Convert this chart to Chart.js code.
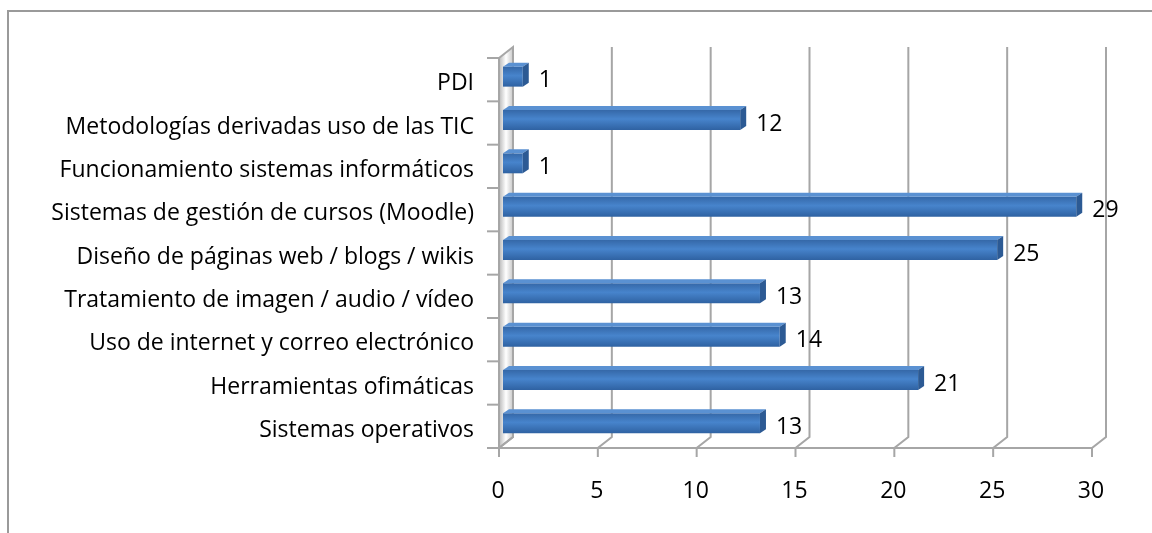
<!DOCTYPE html>
<html>
<head>
<meta charset="utf-8">
<script src="https://cdn.jsdelivr.net/npm/chart.js@4.4.1/dist/chart.umd.min.js"></script>
<style>
    html, body { margin: 0; padding: 0; background: #fff; }
    #wrap { position: relative; width: 1152px; height: 533px; overflow: hidden; }
    #frame { position: absolute; left: 7px; top: 10px; width: 1200px; height: 600px;
             border-left: 2px solid #9a9a9a; border-top: 2px solid #9a9a9a; }
    canvas { position: absolute; left: 0; top: 0; }
</style>
</head>
<body>
<div id="wrap">
    <div id="frame"></div>
    <canvas id="chart" width="1152" height="533"></canvas>
</div>
<script>
const categories = [
    "PDI",
    "Metodologías derivadas uso de las TIC",
    "Funcionamiento sistemas informáticos",
    "Sistemas de gestión de cursos (Moodle)",
    "Diseño de páginas web / blogs / wikis",
    "Tratamiento de imagen / audio / vídeo",
    "Uso de internet y correo electrónico",
    "Herramientas ofimáticas",
    "Sistemas operativos"
];
const values = [1, 12, 1, 29, 25, 13, 14, 21, 13];
const xTicks = [0, 5, 10, 15, 20, 25, 30];

const FONT = "'Open Sans', 'Liberation Sans', sans-serif";
const FONT_SIZE = 23;
const BAR_PCT = 0.46;

// front plane / back plane offsets relative to the bar plane
const front = { dx: -4, dy: 3 };
const back = { dx: 10, dy: -8 };
const depth = { dx: 6, dy: -4 };

const wallsPlugin = {
    id: 'walls',
    beforeDatasetsDraw(chart) {
        const ctx = chart.ctx;
        const area = chart.chartArea;
        const xs = chart.scales.x;
        const x0 = xs.getPixelForValue(0);
        const fb = area.bottom + front.dy;
        const bb = area.bottom + back.dy;
        const top = area.top + back.dy;
        const ftop = area.top + front.dy;

        ctx.save();
        // left side wall
        const g = ctx.createLinearGradient(x0 + front.dx, 0, x0 + back.dx, 0);
        g.addColorStop(0, '#b8b8b8');
        g.addColorStop(0.5, '#ffffff');
        g.addColorStop(1, '#c8c8c8');
        ctx.fillStyle = g;
        ctx.beginPath();
        ctx.moveTo(x0 + front.dx, ftop);
        ctx.lineTo(x0 + back.dx, top);
        ctx.lineTo(x0 + back.dx, bb);
        ctx.lineTo(x0 + front.dx, fb);
        ctx.closePath();
        ctx.fill();
        ctx.strokeStyle = '#a6a6a6';
        ctx.lineWidth = 2;
        ctx.stroke();

        // back grid lines and floor diagonals
        xTicks.forEach(v => {
            const px = xs.getPixelForValue(v);
            ctx.beginPath();
            ctx.moveTo(px + back.dx, top);
            ctx.lineTo(px + back.dx, bb);
            ctx.lineTo(px + front.dx, fb);
            ctx.lineTo(px + front.dx, fb + 9);
            ctx.stroke();
        });

        // front floor line
        ctx.beginPath();
        ctx.moveTo(x0 + front.dx - 2, fb);
        ctx.lineTo(xs.getPixelForValue(30) + front.dx, fb);
        ctx.stroke();

        // category tick marks on the left
        const n = categories.length;
        const step = (area.bottom - area.top) / n;
        for (let i = 0; i <= n; i++) {
            const y = area.top + front.dy + step * i;
            ctx.beginPath();
            ctx.moveTo(x0 + front.dx - 12, y);
            ctx.lineTo(x0 + front.dx, y);
            ctx.stroke();
        }
        ctx.restore();
    },
    afterDatasetsDraw(chart) {
        const ctx = chart.ctx;
        const meta = chart.getDatasetMeta(0);
        ctx.save();
        meta.data.forEach((bar, i) => {
            const left = bar.base;
            const right = bar.x;
            const h = bar.height;
            const t = bar.y - h / 2;
            const b = bar.y + h / 2;

            // top face
            ctx.fillStyle = '#5a91d2';
            ctx.beginPath();
            ctx.moveTo(left, t);
            ctx.lineTo(left + depth.dx, t + depth.dy);
            ctx.lineTo(right + depth.dx, t + depth.dy);
            ctx.lineTo(right, t);
            ctx.closePath();
            ctx.fill();

            // end face
            ctx.fillStyle = '#2c5a94';
            ctx.beginPath();
            ctx.moveTo(right, t);
            ctx.lineTo(right + depth.dx, t + depth.dy);
            ctx.lineTo(right + depth.dx, b + depth.dy);
            ctx.lineTo(right, b);
            ctx.closePath();
            ctx.fill();

            // value label
            ctx.fillStyle = '#000';
            ctx.font = FONT_SIZE + 'px ' + FONT;
            ctx.textAlign = 'left';
            ctx.textBaseline = 'middle';
            ctx.fillText(String(values[i]), right + 16, bar.y + 4);
        });
        ctx.restore();
    }
};

function barFill(context) {
    const chart = context.chart;
    const ys = chart.scales && chart.scales.y;
    if (!chart.chartArea || !ys || context.dataIndex === undefined) return '#3c78c0';
    const cy = ys.getPixelForValue(context.dataIndex);
    const h = (chart.chartArea.bottom - chart.chartArea.top) / categories.length * BAR_PCT;
    if (!Number.isFinite(cy) || !Number.isFinite(h)) return '#3c78c0';
    const g = chart.ctx.createLinearGradient(0, cy - h / 2, 0, cy + h / 2);
    g.addColorStop(0, '#3568a8');
    g.addColorStop(0.45, '#4784cc');
    g.addColorStop(1, '#2f62a2');
    return g;
}

const ctx = document.getElementById('chart').getContext('2d');

const chart = new Chart(ctx, {
    type: 'bar',
    data: {
        labels: categories,
        datasets: [{
            data: values,
            backgroundColor: barFill,
            borderWidth: 0,
            barPercentage: BAR_PCT,
            categoryPercentage: 1
        }]
    },
    options: {
        indexAxis: 'y',
        responsive: false,
        animation: false,
        devicePixelRatio: 1,
        layout: {
            padding: { top: 55, right: 56, bottom: 0, left: 0 }
        },
        plugins: {
            legend: { display: false },
            tooltip: { enabled: false }
        },
        scales: {
            x: {
                min: 0,
                max: 30,
                afterBuildTicks: (scale) => {
                    scale.ticks = xTicks.map(v => ({ value: v }));
                },
                afterFit: (scale) => { scale.height = 88; },
                grid: { display: false, drawTicks: false },
                border: { display: false },
                ticks: {
                    padding: 33,
                    labelOffset: -5,
                    color: '#000',
                    font: { family: FONT, size: FONT_SIZE }
                }
            },
            y: {
                afterFit: (scale) => { scale.width = 503; },
                grid: { display: false, drawTicks: false },
                border: { display: false },
                ticks: {
                    padding: 29,
                    labelOffset: 7,
                    color: '#000',
                    font: { family: FONT, size: FONT_SIZE }
                }
            }
        }
    },
    plugins: [wallsPlugin]
});
</script>
</body>
</html>
